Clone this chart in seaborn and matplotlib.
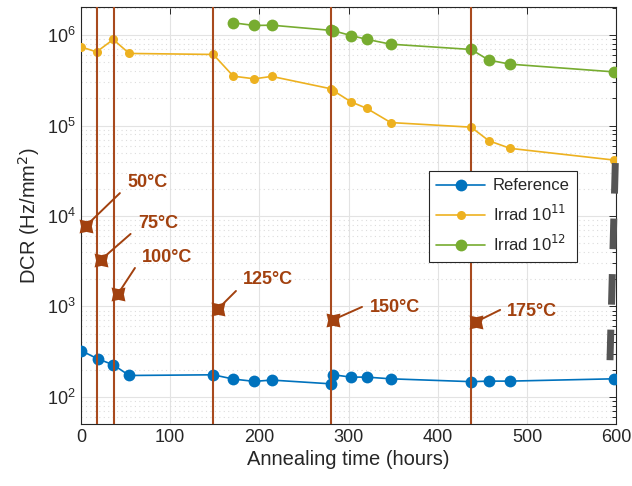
import numpy as np
import pandas as pd
import seaborn as sns
import matplotlib.pyplot as plt

# annealing time (hours) and DCR (Hz/mm^2)
ref_time = [0, 18.7, 36.2, 54.2, 148.4, 170.8, 194.4, 213.9, 280.4, 283, 302.8, 320.4, 347.3, 437.4, 457.2, 481, 597]
ref_dcr = [325, 263, 226, 172, 175, 157, 148, 153, 139, 175, 165, 165, 158, 147, 149, 149, 158]

irr11_time = [0, 17.6, 36.2, 54.2, 148.4, 170.8, 194.4, 213.9, 280.4, 283, 302.8, 320.4, 347.3, 437.4, 457.2, 481, 597]
irr11_dcr = [743e3, 653e3, 896e3, 628e3, 612e3, 352e3, 329e3, 350e3, 255e3, 243e3, 183e3, 155e3, 108e3, 96e3, 68e3, 56e3, 41.6e3]

irr12_time = [170.8, 194.4, 213.9, 280.4, 283, 302.8, 320.4, 347.3, 437.4, 457.2, 481, 597]
irr12_dcr = [1.37e6, 1.28e6, 1.29e6, 1.13e6, 1.12e6, 0.99e6, 0.90e6, 0.795e6, 0.695e6, 0.53e6, 0.478e6, 0.393e6]

# annealing temperature steps
step_time = [18, 37, 148, 280, 437]
step_labels = ["50°C", "75°C", "100°C", "125°C", "150°C", "175°C"]
arrow_tip_x = [5.6, 22.4, 41.5, 153.6, 282.6, 443]
arrow_tip_y = [7.75e3, 3.27e3, 1.37e3, 937, 710, 675]
arrow_tail_x = [43.7, 55.7, 60.6, 173.8, 315.1, 469.9]
arrow_tail_y = [17.9e3, 6.33e3, 2.66e3, 1.48e3, 986, 914]
label_x = [52.7, 63.9, 68.4, 181.7, 324.1, 477.7]
label_y = [23.2e3, 8.17e3, 3.47e3, 1.99e3, 962, 881]

# grey dashed stroke on the right border
stroke_x = [599, 593]
stroke_y = [38.5e3, 244]

sns.set_style("white")
plt.rcParams['font.family'] = ['Liberation Sans', 'DejaVu Sans']

fig = plt.figure(figsize=(6.32, 4.86), dpi=100)
ax = fig.add_axes([0.128, 0.1276, 0.847, 0.858])

blue = "#0072BD"
yellow = "#EDB120"
green = "#77AC30"
brown = "#A2410F"

df_ref = pd.DataFrame({"t": ref_time, "dcr": ref_dcr})
df_11 = pd.DataFrame({"t": irr11_time, "dcr": irr11_dcr})
df_12 = pd.DataFrame({"t": irr12_time, "dcr": irr12_dcr})

sns.lineplot(data=df_ref, x="t", y="dcr", ax=ax, color=blue, marker="o", markersize=8.5,
             markeredgewidth=0, linewidth=1.2, label="Reference", zorder=3)
sns.lineplot(data=df_11, x="t", y="dcr", ax=ax, color=yellow, marker="o", markersize=6.5,
             markeredgewidth=0, linewidth=1.2, label="Irrad 10$^{11}$", zorder=3)
sns.lineplot(data=df_12, x="t", y="dcr", ax=ax, color=green, marker="o", markersize=8.5,
             markeredgewidth=0, linewidth=1.2, label="Irrad 10$^{12}$", zorder=3)

ax.set_yscale("log")
ax.set_xlim(0, 600)
ax.set_ylim(50, 2.05e6)

for t in step_time:
    ax.axvline(t, color="#A84A1E", linewidth=1.5, zorder=4)

# star shaped arrow heads
ang = np.linspace(0, 2 * np.pi, 9)[:-1] + np.pi / 4
rad = np.where(np.arange(8) % 2 == 0, 1.0, 0.55)
star = list(zip(rad * np.cos(ang), rad * np.sin(ang)))

for i, lab in enumerate(step_labels):
    ax.plot([arrow_tail_x[i], arrow_tip_x[i]], [arrow_tail_y[i], arrow_tip_y[i]],
            color=brown, linewidth=1.4, zorder=5, clip_on=False)
    ax.plot(arrow_tip_x[i], arrow_tip_y[i], marker=star, markersize=10, color=brown,
            markeredgewidth=0, zorder=5, clip_on=False)
    ax.text(label_x[i], label_y[i], lab, color=brown, fontsize=13, fontweight="bold",
            ha="left", va="center", zorder=5)

ax.plot(stroke_x, stroke_y, color="#555555", linewidth=5.0, dashes=(4.4, 3.6),
        solid_capstyle="butt", dash_capstyle="butt", zorder=6, clip_on=False)

ax.set_xticks([0, 100, 200, 300, 400, 500, 600])
ax.set_yticks([1e2, 1e3, 1e4, 1e5, 1e6])
ax.grid(True, which="major", color="#e3e3e3", linewidth=0.8)
ax.grid(True, which="minor", axis="y", color="#dcdcdc", linewidth=0.8, linestyle=(0, (1, 3)))
ax.set_axisbelow(True)

ax.tick_params(which="both", direction="in", top=True, right=True, colors="#262626",
               labelsize=13, width=0.7)
ax.tick_params(which="major", length=5)
ax.tick_params(which="minor", length=3)
for sp in ax.spines.values():
    sp.set_color("#262626")
    sp.set_linewidth(0.8)

ax.set_xlabel("Annealing time (hours)", fontsize=14.5, color="#262626", labelpad=3)
ax.set_ylabel("DCR (Hz/mm$^2$)", fontsize=14.5, color="#262626", labelpad=4)

leg = ax.legend(loc="upper left", bbox_to_anchor=(0.65, 0.607), fontsize=12,
                handlelength=2.9, frameon=True, fancybox=False, framealpha=1,
                borderpad=0.45, labelspacing=0.62, handletextpad=0.5, borderaxespad=0)
leg.get_frame().set_edgecolor("#262626")
leg.get_frame().set_linewidth(0.8)
leg.set_zorder(7)

fig.savefig("out.png", dpi=100)
